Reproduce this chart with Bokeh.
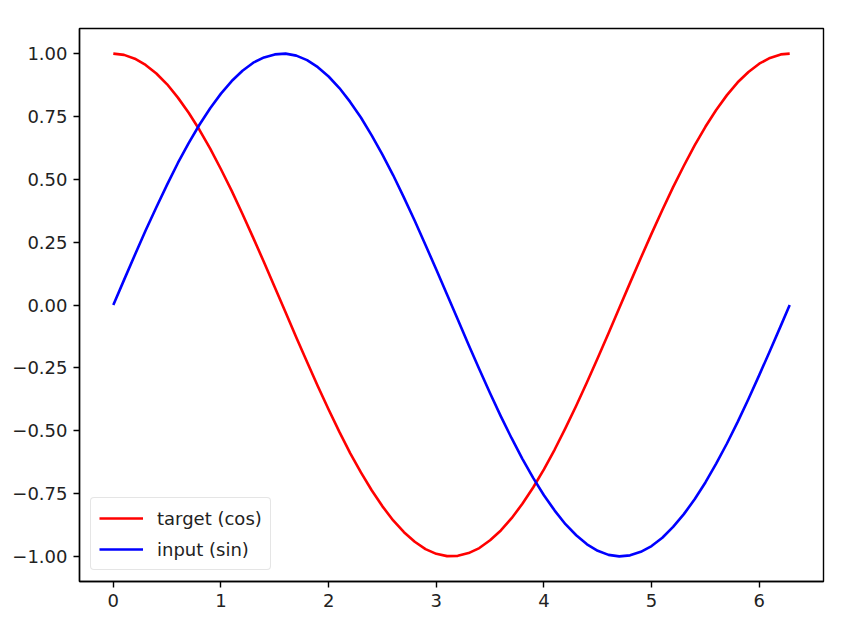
from bokeh.plotting import figure
from bokeh.models import Range1d, FixedTicker, CustomJSTickFormatter, Legend, LegendItem
from bokeh.embed import file_html
from bokeh.resources import INLINE

# x samples (0 .. 2*pi)
x_vals = [0.0, 0.1, 0.2, 0.3, 0.4, 0.5, 0.6, 0.7, 0.8, 0.9, 1.0, 1.1, 1.2, 1.3, 1.4, 1.5,
          1.6, 1.7, 1.8, 1.9, 2.0, 2.1, 2.2, 2.3, 2.4, 2.5, 2.6, 2.7, 2.8, 2.9, 3.0, 3.1,
          3.2, 3.3, 3.4, 3.5, 3.6, 3.7, 3.8, 3.9, 4.0, 4.1, 4.2, 4.3, 4.4, 4.5, 4.6, 4.7,
          4.8, 4.9, 5.0, 5.1, 5.2, 5.3, 5.4, 5.5, 5.6, 5.7, 5.8, 5.9, 6.0, 6.1, 6.2, 6.283]

# target (cos)
target_cos = [1.000, 0.995, 0.980, 0.955, 0.921, 0.878, 0.825, 0.765, 0.697, 0.622, 0.540,
              0.454, 0.362, 0.267, 0.170, 0.071, -0.029, -0.129, -0.227, -0.323, -0.416,
              -0.505, -0.589, -0.666, -0.737, -0.801, -0.857, -0.904, -0.942, -0.971, -0.990,
              -0.999, -0.998, -0.987, -0.967, -0.936, -0.897, -0.848, -0.791, -0.726, -0.654,
              -0.575, -0.490, -0.401, -0.307, -0.211, -0.112, -0.012, 0.088, 0.187, 0.284,
              0.378, 0.469, 0.554, 0.635, 0.709, 0.776, 0.835, 0.886, 0.927, 0.960, 0.983,
              0.997, 1.000]

# input (sin)
input_sin = [0.000, 0.100, 0.199, 0.296, 0.389, 0.479, 0.565, 0.644, 0.717, 0.783, 0.841,
             0.891, 0.932, 0.964, 0.985, 0.997, 1.000, 0.992, 0.974, 0.946, 0.909, 0.863,
             0.808, 0.746, 0.675, 0.598, 0.516, 0.427, 0.335, 0.239, 0.141, 0.042, -0.058,
             -0.158, -0.256, -0.351, -0.443, -0.530, -0.612, -0.688, -0.757, -0.818, -0.872,
             -0.916, -0.952, -0.978, -0.994, -1.000, -0.996, -0.982, -0.959, -0.926, -0.883,
             -0.832, -0.773, -0.706, -0.631, -0.551, -0.465, -0.374, -0.279, -0.182, -0.083,
             0.000]

x_ticks = [0, 1, 2, 3, 4, 5, 6]
y_ticks = [-1.0, -0.75, -0.5, -0.25, 0.0, 0.25, 0.5, 0.75, 1.0]

p = figure(output_backend="svg", toolbar_location=None,
           frame_width=744, frame_height=553,
           min_border_left=79, min_border_top=28, min_border_right=41, min_border_bottom=38,
           x_range=Range1d(-0.314, 6.597), y_range=Range1d(-1.1, 1.1))

p.xgrid.visible = False
p.ygrid.visible = False
p.outline_line_color = "black"
p.outline_line_width = 1.4
p.background_fill_color = "white"
p.border_fill_color = "white"

r1 = p.line(x_vals, target_cos, line_color="red", line_width=2.6, line_join="round")
r2 = p.line(x_vals, input_sin, line_color="blue", line_width=2.6, line_join="round")

for ax in (p.xaxis[0], p.yaxis[0]):
    ax.major_tick_out = 6
    ax.major_tick_in = 0
    ax.minor_tick_out = 0
    ax.minor_tick_in = 0
    ax.axis_line_color = "black"
    ax.axis_line_width = 1.4
    ax.major_tick_line_color = "black"
    ax.major_tick_line_width = 1.4
    ax.major_label_text_font = "DejaVu Sans"
    ax.major_label_text_font_size = "18px"
    ax.major_label_text_color = "#222222"
    ax.major_label_standoff = 6

p.xaxis[0].ticker = FixedTicker(ticks=x_ticks)
p.yaxis[0].ticker = FixedTicker(ticks=y_ticks)
p.yaxis[0].formatter = CustomJSTickFormatter(
    code="return (tick < 0 ? '\u2212' : '') + Math.abs(tick).toFixed(2);")

legend = Legend(items=[LegendItem(label="target (cos)", renderers=[r1]),
                       LegendItem(label="input (sin)", renderers=[r2])],
                location="bottom_left")
legend.label_text_font = "DejaVu Sans"
legend.label_text_font_size = "18px"
legend.label_text_color = "#222222"
legend.glyph_width = 44
legend.glyph_height = 24
legend.label_standoff = 14
legend.spacing = 7
legend.padding = 8
legend.margin = 11
legend.border_line_color = "#cccccc"
legend.border_line_width = 1
legend.border_radius = 4
legend.background_fill_alpha = 0.8
p.add_layout(legend)

open("out.html", "w").write(file_html(p, INLINE))
